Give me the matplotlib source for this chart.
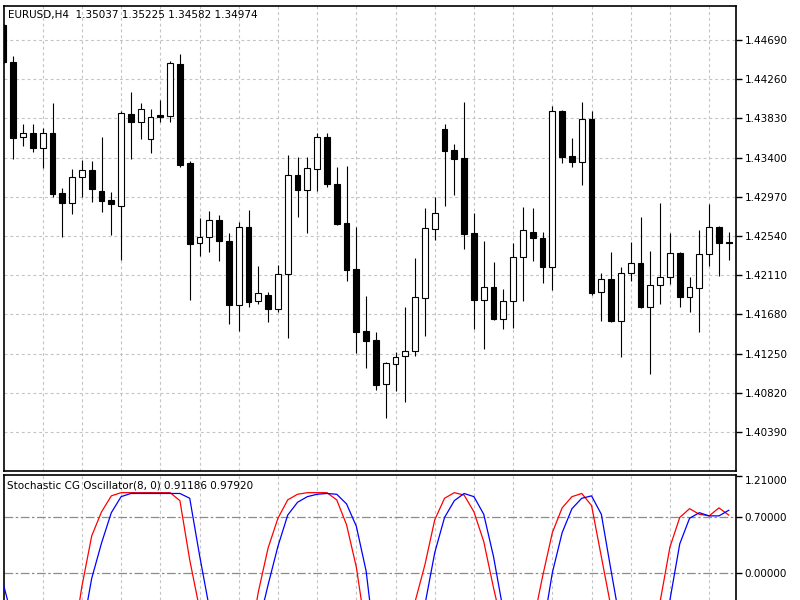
import matplotlib.pyplot as plt
import numpy as np

# EURUSD H4 candles, oldest bar first
opens = [1.44855, 1.44449, 1.43626, 1.43670, 1.43506, 1.43670, 1.43012, 1.42902, 1.43188, 1.43264,
         1.43034, 1.42935, 1.42869, 1.43879, 1.43791, 1.43604, 1.43868, 1.43857, 1.44427, 1.43341,
         1.42464, 1.42529, 1.42716, 1.42486, 1.41784, 1.42639, 1.41827, 1.41893, 1.41740, 1.42124,
         1.43209, 1.43045, 1.43275, 1.43626, 1.43111, 1.42683, 1.42178, 1.41498, 1.41400, 1.40917,
         1.41136, 1.41224, 1.41279, 1.41860, 1.42617, 1.43714, 1.43484, 1.43396, 1.42573, 1.41838,
         1.41981, 1.41630, 1.41827, 1.42310, 1.42584, 1.42518, 1.42200, 1.43911, 1.43418, 1.43352,
         1.43824, 1.41926, 1.42069, 1.41608, 1.42134, 1.42244, 1.41762, 1.42003, 1.42091, 1.42354,
         1.41871, 1.41970, 1.42343, 1.42639, 1.42475]
highs = [1.44866, 1.44515, 1.43769, 1.43769, 1.43725, 1.43999, 1.43067, 1.43275, 1.43374, 1.43363,
         1.43626, 1.43023, 1.43911, 1.44120, 1.43999, 1.43933, 1.44032, 1.44460, 1.44537, 1.43363,
         1.42738, 1.42815, 1.42771, 1.42573, 1.42694, 1.42826, 1.42211, 1.41926, 1.42222, 1.43429,
         1.43407, 1.43407, 1.43670, 1.43670, 1.43297, 1.43308, 1.42639, 1.41882, 1.41487, 1.41158,
         1.41268, 1.41762, 1.42299, 1.42847, 1.42968, 1.43769, 1.43549, 1.44010, 1.42793, 1.42486,
         1.42255, 1.41959, 1.42464, 1.42858, 1.42847, 1.42584, 1.43966, 1.43922, 1.43615, 1.44010,
         1.43911, 1.42134, 1.42365, 1.42200, 1.42475, 1.42749, 1.42376, 1.42902, 1.42573, 1.42365,
         1.42091, 1.42606, 1.42891, 1.42650, 1.42584]
lows = [1.44438, 1.43385, 1.43528, 1.43462, 1.43286, 1.42968, 1.42529, 1.42782, 1.42968, 1.42913,
        1.42804, 1.42551, 1.42277, 1.43385, 1.43604, 1.43451, 1.43791, 1.43791, 1.43297, 1.41838,
        1.42321, 1.42365, 1.42266, 1.41575, 1.41498, 1.41762, 1.41794, 1.41597, 1.41707, 1.41422,
        1.42749, 1.42573, 1.43034, 1.43078, 1.42661, 1.42047, 1.41257, 1.41092, 1.40851, 1.40544,
        1.40840, 1.40720, 1.41224, 1.41443, 1.42496, 1.42869, 1.42990, 1.42398, 1.41520, 1.41301,
        1.41619, 1.41520, 1.41531, 1.41827, 1.42266, 1.42025, 1.41948, 1.43341, 1.43297, 1.43100,
        1.41893, 1.41608, 1.41597, 1.41213, 1.42047, 1.41751, 1.41027, 1.41794, 1.42014, 1.41762,
        1.41707, 1.41487, 1.42211, 1.42102, 1.42277]
closes = [1.44449, 1.43615, 1.43670, 1.43506, 1.43670, 1.43001, 1.42902, 1.43188, 1.43264, 1.43056,
          1.42924, 1.42891, 1.43890, 1.43791, 1.43933, 1.43846, 1.43846, 1.44438, 1.43319, 1.42453,
          1.42529, 1.42716, 1.42486, 1.41784, 1.42639, 1.41816, 1.41915, 1.41740, 1.42124, 1.43209,
          1.43045, 1.43286, 1.43626, 1.43111, 1.42672, 1.42167, 1.41487, 1.41389, 1.40906, 1.41147,
          1.41213, 1.41279, 1.41871, 1.42628, 1.42793, 1.43473, 1.43385, 1.42562, 1.41838, 1.41981,
          1.41630, 1.41827, 1.42310, 1.42606, 1.42518, 1.42200, 1.43911, 1.43407, 1.43352, 1.43824,
          1.41915, 1.42069, 1.41608, 1.42134, 1.42244, 1.41762, 1.42003, 1.42091, 1.42354, 1.41871,
          1.41981, 1.42343, 1.42639, 1.42464, 1.42464]

# Stochastic CG oscillator (red) and its trigger line (blue)
cg_values = [-0.60, -1.00, -1.00, -1.00, -1.00, -1.00, -1.00, -0.95, -0.17, 0.46,
             0.76, 0.96, 1.00, 1.00, 1.00, 1.00, 1.00, 1.00, 0.90, 0.16,
             -0.45, -1.00, -1.00, -1.00, -1.00, -0.95, -0.24, 0.31, 0.68, 0.91,
             0.98, 1.00, 1.00, 1.00, 0.91, 0.60, 0.07, -0.75, -1.00, -1.00,
             -1.00, -1.00, -0.36, 0.10, 0.66, 0.93, 1.00, 0.97, 0.76, 0.39,
             -0.19, -0.72, -1.00, -1.00, -0.65, -0.05, 0.50, 0.81, 0.95, 0.99,
             0.84, 0.20, -0.44, -1.00, -1.00, -1.00, -1.00, -0.36, 0.32, 0.69,
             0.80, 0.73, 0.71, 0.81, 0.72]
trigger = [-0.15, -0.62, -1.00, -1.00, -1.00, -1.00, -1.00, -1.00, -0.75, -0.07,
           0.37, 0.75, 0.95, 0.99, 0.99, 0.99, 0.99, 0.99, 0.99, 0.93,
           0.22, -0.44, -1.00, -1.00, -1.00, -1.00, -0.66, -0.15, 0.33, 0.72,
           0.88, 0.95, 0.98, 0.99, 0.98, 0.86, 0.58, 0.02, -1.00, -1.00,
           -1.00, -1.00, -1.00, -0.40, 0.25, 0.69, 0.90, 0.99, 0.95, 0.73,
           0.20, -0.48, -1.00, -1.00, -1.00, -0.74, 0.00, 0.50, 0.80, 0.93,
           0.96, 0.73, 0.02, -0.67, -1.00, -1.00, -1.00, -1.00, -0.34, 0.36,
           0.68, 0.75, 0.71, 0.71, 0.78]

price_ticks = [1.40390, 1.40820, 1.41250, 1.41680, 1.42110, 1.42540,
               1.42970, 1.43400, 1.43830, 1.44260, 1.44690]
osc_ticks = [0.0, 0.7, 1.21]
osc_levels = [0.0, 0.7]

title_text = 'EURUSD,H4  1.35037 1.35225 1.34582 1.34974'
osc_text = 'Stochastic CG Oscillator(8, 0) 0.91186 0.97920'

plt.rc('font', family='DejaVu Sans', size=7.5)

fig = plt.figure(figsize=(8, 6), dpi=100)
ax = fig.add_axes([4 / 800, 1 - 470.5 / 600, 732 / 800, 464.5 / 600])
ax2 = fig.add_axes([4 / 800, 0, 732 / 800, 125.5 / 600])

x = np.arange(len(opens))
o = np.array(opens)
c = np.array(closes)
up = c >= o
body_low = np.minimum(o, c)
body_h = np.maximum(np.abs(c - o), 0.000008)

grid_style = dict(color='#c4c4c4', linestyle=(0, (2.6, 2.6)), linewidth=0.8)

# ---------------------------------------------------------------- price panel
ax.vlines(x, lows, highs, color='black', linewidth=0.8, zorder=2)
ax.bar(x, body_h, bottom=body_low, width=0.6,
       color=np.where(up, 'white', 'black'), edgecolor='black', linewidth=0.8, zorder=3)
ax.set_xlim(0.05, 74.74)
ax.set_ylim(1.39968, 1.45063)
ax.set_xticks(np.arange(4, 75, 4))
ax.set_yticks(price_ticks)
ax.set_yticklabels(['%.5f' % p for p in price_ticks])
ax.yaxis.tick_right()
ax.tick_params(axis='x', length=0, labelbottom=False)
ax.tick_params(axis='y', direction='out', length=4, width=1, pad=2, labelsize=7.5)
ax.set_axisbelow(True)
ax.grid(True, **grid_style)
for s in ax.spines.values():
    s.set_linewidth(1.2)

# ---------------------------------------------------------------- oscillator panel
for lvl in osc_levels:
    ax2.axhline(lvl, color='#8c8c8c', linestyle=(0, (7, 2, 2, 2)), linewidth=0.9, zorder=1)
ax2.plot(x, cg_values, color='#ff0000', linewidth=0.9, zorder=3)
ax2.plot(x, trigger, color='#0000ff', linewidth=0.9, zorder=3)
ax2.set_xlim(0.05, 74.74)
ax2.set_ylim(-0.341, 1.227)
ax2.set_xticks(np.arange(4, 75, 4))
ax2.set_yticks(osc_ticks)
ax2.set_yticklabels(['%.5f' % v for v in osc_ticks])
ax2.yaxis.tick_right()
ax2.tick_params(axis='x', length=0, labelbottom=False)
ax2.tick_params(axis='y', direction='out', length=4, width=1, pad=2, labelsize=7.5)
for lbl in ax2.get_yticklabels():
    if lbl.get_text() == '1.21000':
        lbl.set_verticalalignment('top')
ax2.set_axisbelow(True)
ax2.grid(True, axis='x', **grid_style)
for s in ax2.spines.values():
    s.set_linewidth(1.2)
ax2.spines['bottom'].set_visible(False)

fig.text(8 / 800, 1 - 15 / 600, title_text, ha='left', va='center', fontsize=7.5)
fig.text(7 / 800, 1 - 485 / 600, osc_text, ha='left', va='center', fontsize=7.5)

fig.savefig('out.png', dpi=100)
